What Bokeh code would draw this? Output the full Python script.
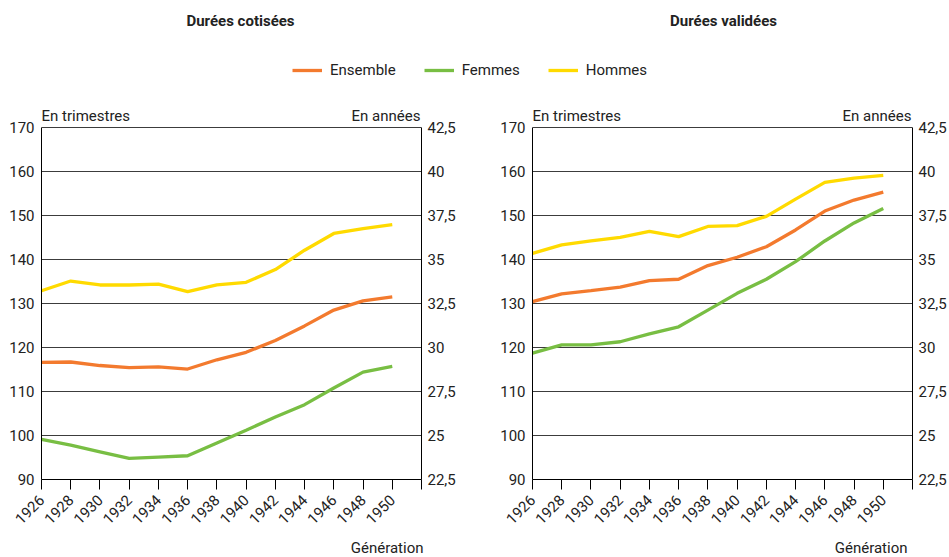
import math
from bokeh.plotting import figure
from bokeh.layouts import column, row
from bokeh.models import (Range1d, LinearAxis, FixedTicker, CustomJSTickFormatter,
                          Label, Legend, LegendItem, ColumnDataSource)
from bokeh.embed import file_html
from bokeh.resources import INLINE

FONT = "Roboto"

generations = [1926, 1928, 1930, 1932, 1934, 1936, 1938, 1940, 1942, 1944, 1946, 1948, 1950]
x_ticks = [1926, 1928, 1930, 1932, 1934, 1936, 1938, 1940, 1942, 1944, 1946, 1948, 1950, 1952]
y_ticks = [90, 100, 110, 120, 130, 140, 150, 160, 170]
y_ticks_years = [22.5, 25, 27.5, 30, 32.5, 35, 37.5, 40, 42.5]

cot_ensemble = [116.6, 116.7, 115.9, 115.4, 115.6, 115.1, 117.2, 118.9, 121.6, 124.9, 128.5, 130.6, 131.5]
cot_femmes = [99.1, 97.8, 96.3, 94.8, 95.1, 95.4, 98.3, 101.2, 104.2, 107.0, 110.8, 114.4, 115.7]
cot_hommes = [132.9, 135.1, 134.2, 134.2, 134.4, 132.7, 134.2, 134.8, 137.7, 142.1, 145.9, 147.0, 147.9]

val_ensemble = [130.4, 132.2, 132.9, 133.7, 135.2, 135.5, 138.6, 140.5, 142.9, 146.7, 151.0, 153.5, 155.3]
val_femmes = [118.7, 120.6, 120.6, 121.3, 123.1, 124.7, 128.5, 132.3, 135.5, 139.5, 144.2, 148.3, 151.6]
val_hommes = [141.4, 143.3, 144.2, 145.0, 146.4, 145.2, 147.5, 147.7, 149.8, 153.7, 157.5, 158.5, 159.1]

series_names = ["Ensemble", "Femmes", "Hommes"]
colors = ["#F37A2E", "#78BE43", "#FFDA00"]
titles = ["Durées cotisées", "Durées validées"]
left_unit = "En trimestres"
right_unit = "En années"
x_title = "Génération"

TEXT_COLOR = "#222222"
FS = "15px"
W = 949
HEADER_H = 100
FOOTER_H = 25
PANEL_H = 557 - HEADER_H - FOOTER_H
PLOT_H = 353          # pixel height of the 90..170 band
HEAD_ROOM = 27        # blank pixels above 170 inside the frame (for unit captions)
FRAME_H = PLOT_H + HEAD_ROOM
Y_MIN, Y_TOP = 90, 170
Y_MAX = Y_TOP + HEAD_ROOM * (Y_TOP - Y_MIN) / PLOT_H


def make_panel(ens, fem, hom, width, left_border, right_border):
    p = figure(width=width, height=PANEL_H, output_backend="svg", toolbar_location=None,
               x_range=Range1d(1926, 1952), y_range=Range1d(Y_MIN, Y_MAX),
               min_border_left=left_border, min_border_right=right_border,
               min_border_top=0, min_border_bottom=PANEL_H - FRAME_H)
    p.outline_line_color = None
    p.background_fill_color = "white"
    p.border_fill_color = "white"
    p.xgrid.grid_line_color = None
    p.ygrid.grid_line_color = "#3c3c3c"
    p.ygrid.grid_line_width = 1
    p.ygrid.ticker = FixedTicker(ticks=y_ticks)

    xa = p.xaxis[0]
    xa.ticker = FixedTicker(ticks=x_ticks)
    xa.major_label_overrides = {1952: ""}
    xa.major_label_orientation = math.pi / 4
    xa.major_tick_out = 10
    xa.major_tick_in = 0
    xa.minor_tick_out = 0
    xa.axis_line_color = "black"
    xa.major_tick_line_color = "black"
    xa.major_label_text_font = FONT
    xa.major_label_text_font_size = FS
    xa.major_label_text_color = TEXT_COLOR
    xa.major_label_standoff = 8

    ya = p.yaxis[0]
    ya.ticker = FixedTicker(ticks=y_ticks)
    ya.bounds = (Y_MIN, Y_TOP)
    ya.major_tick_out = 0
    ya.major_tick_in = 0
    ya.minor_tick_out = 0
    ya.axis_line_color = "black"
    ya.major_label_text_font = FONT
    ya.major_label_text_font_size = FS
    ya.major_label_text_color = TEXT_COLOR
    ya.major_label_standoff = 7

    p.extra_y_ranges = {"years": Range1d(Y_MIN / 4, Y_MAX / 4)}
    ra = LinearAxis(y_range_name="years")
    ra.ticker = FixedTicker(ticks=y_ticks_years)
    ra.bounds = (Y_MIN / 4, Y_TOP / 4)
    ra.formatter = CustomJSTickFormatter(code="return tick.toString().replace('.', ',');")
    ra.major_tick_out = 0
    ra.major_tick_in = 0
    ra.minor_tick_out = 0
    ra.axis_line_color = "black"
    ra.major_label_text_font = FONT
    ra.major_label_text_font_size = FS
    ra.major_label_text_color = TEXT_COLOR
    ra.major_label_standoff = 6
    p.add_layout(ra, "right")

    for vals, c in zip([hom, ens, fem], [colors[2], colors[0], colors[1]]):
        src = ColumnDataSource(dict(x=generations, y=vals))
        p.line("x", "y", source=src, line_color=c, line_width=3.3)

    p.add_layout(Label(x=1926, y=Y_TOP, y_offset=11, text=left_unit, text_align="left",
                       text_baseline="middle", text_font=FONT, text_font_size=FS,
                       text_color=TEXT_COLOR))
    p.add_layout(Label(x=1952, y=Y_TOP, y_offset=11, x_offset=-1, text=right_unit,
                       text_align="right", text_baseline="middle", text_font=FONT,
                       text_font_size=FS, text_color=TEXT_COLOR))
    return p


left = make_panel(cot_ensemble, cot_femmes, cot_hommes, 474, 41, 53)
right = make_panel(val_ensemble, val_femmes, val_hommes, 475, 58, 37)


def text_strip(height):
    f = figure(width=W, height=height, output_backend="svg", toolbar_location=None,
               x_range=Range1d(0, W), y_range=Range1d(0, height),
               min_border=0, min_border_left=0, min_border_right=0,
               min_border_top=0, min_border_bottom=0)
    f.axis.visible = False
    f.grid.visible = False
    f.outline_line_color = None
    return f


def lab(fig, x, y, text, align, bold=False):
    fig.add_layout(Label(x=x, y=y, text=text, text_align=align, text_baseline="middle",
                         text_font=FONT, text_font_size=FS,
                         text_font_style="bold" if bold else "normal",
                         text_color=TEXT_COLOR))


# header: titles and legend
header = text_strip(HEADER_H)
for t, xc in zip(titles, [240, 723]):
    lab(header, xc, HEADER_H - 20, t, "center", bold=True)

# legend renderers: series data, lying outside the header's visible range
items = []
for name, c, vals in zip(series_names, colors, [cot_ensemble, cot_femmes, cot_hommes]):
    src = ColumnDataSource(dict(x=generations, y=vals))
    r = header.line("x", "y", source=src, line_color=c, line_width=3.3)
    items.append(LegendItem(label=name, renderers=[r]))

legend = Legend(items=items, orientation="horizontal", location=(292, HEADER_H - 70 - 9),
                glyph_width=30, glyph_height=18, label_standoff=8, spacing=28,
                padding=0, margin=0, border_line_color=None, background_fill_alpha=0,
                label_text_font=FONT, label_text_font_size=FS, label_text_color=TEXT_COLOR)
header.add_layout(legend, "center")

# footer: x axis title
footer = text_strip(FOOTER_H)
for xr in [423, 907]:
    lab(footer, xr, 557 - 547, x_title, "right")

layout = column(header, row(left, right, spacing=0), footer, spacing=0)

open("out.html", "w").write(file_html(layout, INLINE))
